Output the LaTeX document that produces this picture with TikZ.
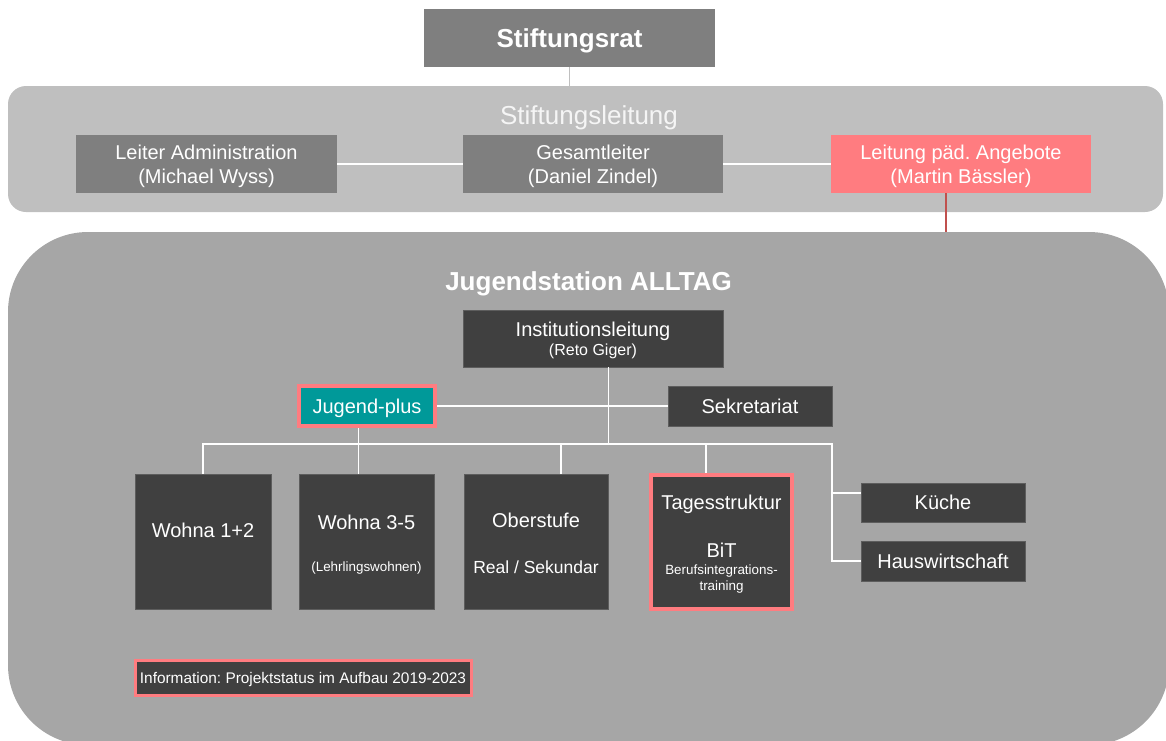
\documentclass[tikz,border=0pt]{standalone}
\usepackage{fontspec}
\setmainfont{Liberation Sans}
\frenchspacing
\definecolor{midgray}{HTML}{7F7F7F}
\definecolor{panelA}{HTML}{BFBFBF}
\definecolor{panelB}{HTML}{A6A6A6}
\definecolor{darkbox}{HTML}{404040}
\definecolor{salmon}{HTML}{FF7C80}
\definecolor{tealbox}{HTML}{009999}
\definecolor{redline}{HTML}{C0504D}
\begin{document}
\begin{tikzpicture}[x=1pt,y=-1pt,
  box/.style={rectangle, inner sep=0pt, text=white, align=center, text depth=0pt},
  fa/.style={font=\fontsize{20}{23.5}\selectfont},
  fbig/.style={font=\fontsize{26}{30}\selectfont},
  fbigb/.style={font=\bfseries\fontsize{26}{30}\selectfont},
  fsmall/.style={font=\fontsize{13.4}{16}\selectfont},
  greybox/.style={box, fill=midgray, fa},
  darkb/.style={box, fill=darkbox, draw=darkbox!85!white, line width=0.6pt, fa},
  hl/.style={draw=salmon, line width=#1},
  txt/.style={text=white, inner sep=0pt, anchor=base},
  wline/.style={draw=white, line width=1.5pt},
  panel/.style={rectangle, inner sep=0pt}
]
\useasboundingbox (0,0) rectangle (1166,740);
\clip (0,0) rectangle (1166,740);
% panels
\node[panel, fill=panelA, rounded corners=18pt, minimum width=1155pt, minimum height=126pt] (leit) at (585.5,149) {};
\node[panel, fill=panelB, rounded corners=80pt, minimum width=1161pt, minimum height=513pt] (jug) at (588.5,488.5) {};
% titles
\node[txt, fbig, text=white!96!black] (leittitle) at (589,124) {Stiftungsleitung};
\node[txt, fbigb] (jugtitle) at (588.5,290) {Jugendstation ALLTAG};
% top boxes
\node[greybox, fbigb, minimum width=291pt, minimum height=58pt] (rat) at (569.5,38) {Stiftungsrat};
\node[greybox, minimum width=261pt, minimum height=58pt] (admin) at (206.5,164) {Leiter Administration\\(Michael Wyss)};
\node[greybox, minimum width=260pt, minimum height=58pt] (gesamt) at (593,164) {Gesamtleiter\\(Daniel Zindel)};
\node[greybox, fill=salmon, minimum width=260pt, minimum height=58pt] (paed) at (961,164) {Leitung päd. Angebote\\(Martin Bässler)};
% inner boxes
\node[darkb, minimum width=260pt, minimum height=57pt, font=\fontsize{20}{19.5}\selectfont] (inst) at (593,338.5) {Institutionsleitung\\{\fontsize{16}{19.5}\selectfont (Reto Giger)}};
\node[box, fill=tealbox, hl=4pt, fa, minimum width=136pt, minimum height=40pt] (jplus) at (367,406) {Jugend-plus};
\node[darkb, minimum width=164pt, minimum height=40pt] (sekr) at (750,406) {Sekretariat};
\node[darkb, minimum width=136pt, minimum height=135pt] (w12) at (203,541.5) {};
\node[darkb, minimum width=135pt, minimum height=135pt] (w35) at (366.5,541.5) {};
\node[darkb, minimum width=144pt, minimum height=135pt] (ober) at (536,541.5) {};
\node[box, fill=darkbox, hl=3.5pt, minimum width=141pt, minimum height=134pt] (tages) at (721.5,542) {};
\node[darkb, minimum width=164pt, minimum height=39pt] (kueche) at (943,502.5) {Küche};
\node[darkb, minimum width=164pt, minimum height=40pt] (haus) at (943,561) {Hauswirtschaft};
\node[box, fill=darkbox, hl=3pt, minimum width=336pt, minimum height=35pt, font=\fontsize{15.4}{18}\selectfont] (info) at (303,677.5) {Information: Projektstatus im Aufbau 2019-2023};
% texts in tall boxes
\node[txt, fa] (w12t) at (203,537) {Wohna 1+2};
\node[txt, fa] (w35t) at (366.5,529) {Wohna 3-5};
\node[txt, fsmall] (w35s) at (366.5,571) {(Lehrlingswohnen)};
\node[txt, fa] (obert) at (536,527) {Oberstufe};
\node[txt, font=\fontsize{17.5}{20}\selectfont] (obers) at (536,573) {Real / Sekundar};
\node[txt, fa] (tagest) at (721.5,509) {Tagesstruktur};
\node[txt, fa] (bit) at (721.5,557) {BiT};
\node[txt, fsmall] (bits1) at (721.5,574.5) {Berufsintegrations-};
\node[txt, fsmall] (bits2) at (721.5,590) {training};
% helper coordinates
\coordinate (cred) at (946,0);
\coordinate (c358) at (358.5,0);
\coordinate (c608) at (608.5,0);
\coordinate (c561) at (561,0);
\coordinate (c706) at (706,0);
\coordinate (busL) at (203,444);
\coordinate (busR) at (832,444);
\coordinate (kbr) at (0,493);
% connectors
\draw[draw=panelA, line width=1.5pt] (rat.south) -- (rat.south |- leit.north);
\draw[wline] (admin.east) -- (gesamt.west);
\draw[wline] (gesamt.east) -- (paed.west);
\draw[draw=redline, line width=1.5pt] (cred |- paed.south) -- (cred |- jug.north);
\draw[wline] (jplus.east) -- (sekr.west);
\draw[wline] (c608 |- inst.south) -- (c608 |- busL);
\draw[wline] (w12.north) -- (busL) -- (busR) -- (busR |- haus.west) -- (haus.west);
\draw[wline] (busR |- kbr) -- (kueche.west |- kbr);
\draw[wline] (c358 |- jplus.south) -- (c358 |- w35.north);
\draw[wline] (c561 |- busL) -- (c561 |- ober.north);
\draw[wline] (c706 |- busL) -- (c706 |- tages.north);
\end{tikzpicture}
\end{document}
